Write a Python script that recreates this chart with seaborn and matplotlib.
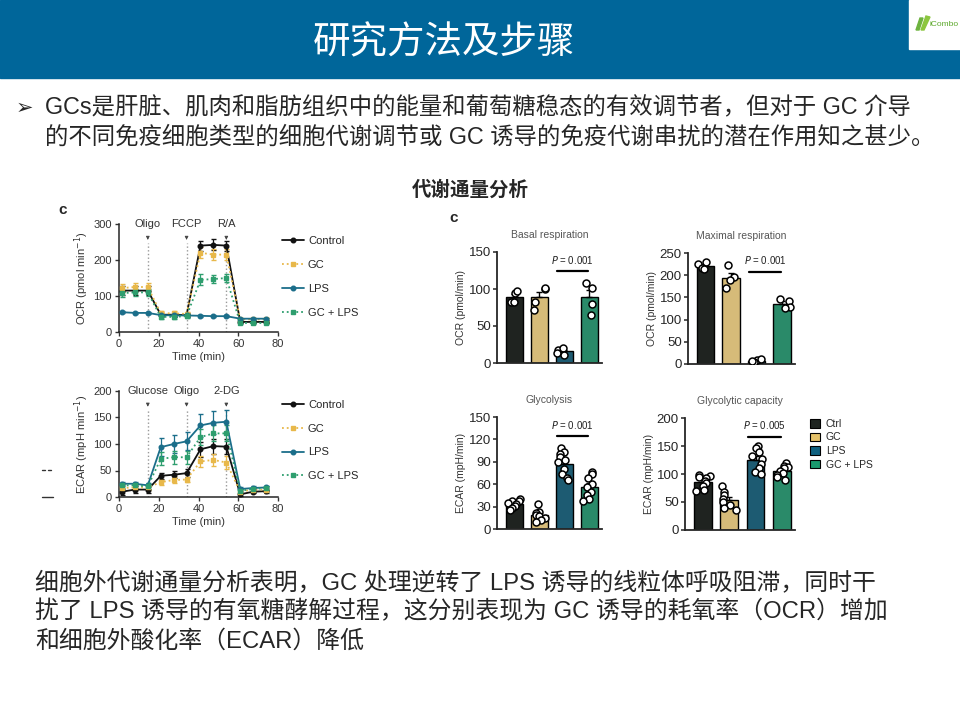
import numpy as np
import pandas as pd
import matplotlib
matplotlib.use("Agg")
import matplotlib.pyplot as plt
import seaborn as sns
from matplotlib.patches import Rectangle, Patch, Polygon
from matplotlib.lines import Line2D

# ---- data ----
times = [1.5, 8, 14.5, 21, 27.5, 34, 41, 47.5, 54, 61, 67.5, 74]
line_groups = ["Control", "GC", "LPS", "GC + LPS"]

ocr_control = [115, 115, 115, 48, 48, 47, 240, 242, 240, 28, 28, 28]
ocr_gc = [122, 125, 125, 52, 52, 50, 220, 215, 215, 35, 35, 35]
ocr_lps = [55, 53, 53, 47, 46, 46, 45, 44, 44, 37, 37, 37]
ocr_gclps = [108, 110, 110, 42, 42, 44, 145, 147, 150, 25, 25, 25]
ocr_control_err = [12, 12, 12, 5, 5, 5, 14, 15, 14, 4, 4, 4]
ocr_gc_err = [12, 12, 12, 5, 5, 5, 15, 15, 15, 4, 4, 4]
ocr_lps_err = [3, 3, 3, 3, 3, 3, 3, 3, 3, 3, 3, 3]
ocr_gclps_err = [10, 10, 10, 5, 5, 5, 15, 10, 10, 3, 3, 3]

ecar_control = [10, 14, 14, 40, 42, 45, 90, 96, 95, 5, 10, 11]
ecar_gc = [17, 18, 18, 28, 32, 33, 67, 70, 65, 10, 14, 14]
ecar_lps = [25, 25, 22, 94, 100, 105, 135, 140, 142, 15, 17, 18]
ecar_gclps = [22, 22, 20, 72, 75, 75, 113, 120, 120, 12, 15, 17]
ecar_control_err = [6, 6, 6, 6, 7, 7, 14, 14, 14, 3, 3, 3]
ecar_gc_err = [5, 5, 5, 5, 5, 5, 10, 12, 12, 3, 3, 3]
ecar_lps_err = [4, 4, 4, 17, 17, 17, 22, 22, 22, 4, 3, 3]
ecar_gclps_err = [5, 5, 5, 12, 12, 12, 15, 15, 15, 3, 3, 3]

ocr_events = ["Oligo", "FCCP", "R/A"]
ecar_events = ["Glucose", "Oligo", "2-DG"]
event_times = [14.5, 34, 54]

bar_groups = ["Ctrl", "GC", "LPS", "GC + LPS"]
basal = {"Ctrl": [95, 97, 82, 82], "GC": [100, 101, 72, 82],
         "LPS": [18, 20, 14, 11], "GC + LPS": [102, 108, 80, 65]}
maximal = {"Ctrl": [226, 229, 216, 214], "GC": [222, 195, 190, 172],
           "LPS": [9, 11, 5, 6], "GC + LPS": [147, 141, 129, 127]}
glycolysis = {"Ctrl": [40, 38, 37, 35, 33, 31, 28, 25],
              "GC": [33, 23, 21, 19, 17, 15, 12, 10],
              "LPS": [108, 103, 100, 97, 93, 90, 80, 73, 68, 65],
              "GC + LPS": [76, 73, 68, 60, 56, 50, 46, 40, 38]}
capacity = {"Ctrl": [99, 97, 95, 92, 88, 84, 78, 72, 70],
            "GC": [78, 67, 62, 56, 50, 45, 40, 36],
            "LPS": [150, 147, 140, 133, 126, 118, 110, 104, 100],
            "GC + LPS": [120, 115, 112, 110, 106, 102, 98, 94, 90]}

title = "研究方法及步骤"
bullet_lines = ["GCs是肝脏、肌肉和脂肪组织中的能量和葡萄糖稳态的有效调节者，但对于 GC 介导",
                "的不同免疫细胞类型的细胞代谢调节或 GC 诱导的免疫代谢串扰的潜在作用知之甚少。"]
body_lines = ["细胞外代谢通量分析表明，GC 处理逆转了 LPS 诱导的线粒体呼吸阻滞，同时干",
              "扰了 LPS 诱导的有氧糖酵解过程，这分别表现为 GC 诱导的耗氧率（OCR）增加",
              "和细胞外酸化率（ECAR）降低"]

line_colors = {"Control": "#111111", "GC": "#E8B84A", "LPS": "#1B6E8A", "GC + LPS": "#2E9E6E"}
line_styles = {"Control": "-", "GC": ":", "LPS": "-", "GC + LPS": ":"}
line_markers = {"Control": "o", "GC": "s", "LPS": "o", "GC + LPS": "s"}
bar_colors = {"Ctrl": "#1E2420", "GC": "#E5C26A", "LPS": "#0F6180", "GC + LPS": "#1A9A6E"}

sns.set_theme(style="ticks")
plt.rcParams['font.family'] = ['Liberation Sans', 'Noto Sans CJK SC', 'DejaVu Sans']
plt.rcParams['axes.linewidth'] = 1.1
np.random.seed(3)  # only for the dot jitter

W, H = 960, 720


def box(l, t, r, b):
    return [l / W, 1 - b / H, (r - l) / W, (b - t) / H]


fig = plt.figure(figsize=(9.6, 7.2), dpi=100)
fig.patch.set_facecolor("white")

# header bar + logo
fig.patches.append(Rectangle((0, 1 - 78 / H), 1, 78 / H, transform=fig.transFigure,
                             color="#00669A", zorder=0))
fig.patches.append(Rectangle((909 / W, 1 - 49 / H), 51 / W, 49 / H, transform=fig.transFigure,
                             color="white", zorder=1))
fig.patches.append(Polygon([(916 / W, 1 - 30 / H), (920 / W, 1 - 18 / H), (923 / W, 1 - 18 / H),
                            (919 / W, 1 - 30 / H)], transform=fig.transFigure, color="#6DB33F", zorder=2))
fig.patches.append(Polygon([(921 / W, 1 - 30 / H), (926 / W, 1 - 16 / H), (930 / W, 1 - 17 / H),
                            (924 / W, 1 - 30 / H)], transform=fig.transFigure, color="#8CC63F", zorder=2))
fig.text(944 / W, 1 - 24 / H, "iCombo", color="#5BA829", fontsize=6, ha="center", va="center")
fig.text(444 / W, 1 - 43 / H, title, color="white", fontsize=27, ha="center", va="center")

# bullet text
fig.text(16 / W, 1 - 108 / H, "➢", fontsize=15, va="center", family=["DejaVu Sans"])
for i, s in enumerate(bullet_lines):
    fig.text(45 / W, 1 - (108 + 29 * i) / H, s, fontsize=16.8, va="center")

fig.text(470 / W, 1 - 190 / H, "代谢通量分析", fontsize=14, fontweight="bold", ha="center", va="center")
fig.text(58 / W, 1 - 210 / H, "c", fontsize=11, fontweight="bold", va="center")
fig.text(449 / W, 1 - 218 / H, "c", fontsize=11, fontweight="bold", va="center")

# stray marks at left edge
fig.lines.append(Line2D([42 / W, 45 / W], [1 - 470 / H] * 2, transform=fig.transFigure, color="#333333", lw=1))
fig.lines.append(Line2D([48 / W, 51 / W], [1 - 470 / H] * 2, transform=fig.transFigure, color="#333333", lw=1))
fig.lines.append(Line2D([42 / W, 53 / W], [1 - 497 / H] * 2, transform=fig.transFigure, color="#333333", lw=1))

for i, s in enumerate(body_lines):
    fig.text(35 / W, 1 - (583 + 29 * i) / H, s, fontsize=17.2, va="center")


def draw_time(ax, series, errs, ylim, yticks, ylabel, events, arrow_top, arrow_tip, leg_y):
    for name in line_groups:
        ax.errorbar(times, series[name], yerr=errs[name], color=line_colors[name],
                    ls=line_styles[name], marker=line_markers[name], ms=3.3, lw=1.3,
                    elinewidth=0.9, capsize=1.8, zorder=3)
    for t, lab in zip(event_times, events):
        ax.plot([t, t], [0, arrow_tip], color="#999999", ls=":", lw=1, zorder=1)
        ax.annotate("", xy=(t, arrow_tip), xytext=(t, arrow_top),
                    arrowprops=dict(arrowstyle="-|>", color="#444444", lw=0.6,
                                    mutation_scale=5))
        ax.text(t, ylim[1], lab, ha="center", va="center", fontsize=8, color="#333333")
    ax.set_xlim(0, 80)
    ax.set_ylim(*ylim)
    ax.set_xticks([0, 20, 40, 60, 80])
    ax.set_yticks(yticks)
    ax.tick_params(labelsize=8, length=3, width=1, colors="#333333", pad=2)
    ax.set_xlabel("Time (min)", fontsize=8, color="#333333", labelpad=2)
    ax.set_ylabel(ylabel, fontsize=8, color="#333333", labelpad=2)
    sns.despine(ax=ax)
    handles = [Line2D([], [], color=line_colors[n], ls=line_styles[n], marker=line_markers[n],
                      ms=3.3, lw=1.3) for n in line_groups]
    ax.legend(handles, line_groups, loc="upper left", bbox_to_anchor=(1.0, leg_y),
              frameon=False, fontsize=8, labelspacing=1.25, handlelength=1.9,
              handletextpad=0.4, borderaxespad=0)


ax1 = fig.add_axes(box(119, 224, 278, 332))
draw_time(ax1,
          {"Control": ocr_control, "GC": ocr_gc, "LPS": ocr_lps, "GC + LPS": ocr_gclps},
          {"Control": ocr_control_err, "GC": ocr_gc_err, "LPS": ocr_lps_err, "GC + LPS": ocr_gclps_err},
          (0, 300), [0, 100, 200, 300], "OCR (pmol min$^{-1}$)", ocr_events, 272, 248, 0.93)

ax2 = fig.add_axes(box(119, 391, 278, 497))
draw_time(ax2,
          {"Control": ecar_control, "GC": ecar_gc, "LPS": ecar_lps, "GC + LPS": ecar_gclps},
          {"Control": ecar_control_err, "GC": ecar_gc_err, "LPS": ecar_lps_err, "GC + LPS": ecar_gclps_err},
          (0, 200), [0, 50, 100, 150, 200], "ECAR (mpH min$^{-1}$)", ecar_events, 182, 165, 0.96)


def draw_bars(ax, values, ylim, yticks, ylabel, panel_title, ptext, p_y):
    df = pd.DataFrame([(g, v) for g in bar_groups for v in values[g]], columns=["group", "value"])
    sns.barplot(data=df, x="group", y="value", hue="group", order=bar_groups, hue_order=bar_groups,
                palette=bar_colors, errorbar=None, width=0.68, edgecolor="black",
                linewidth=1, ax=ax, legend=False, zorder=2)
    stats = df.groupby("group")["value"].agg(["mean", "sem"]).reindex(bar_groups)
    ax.errorbar(range(len(bar_groups)), stats["mean"], yerr=[np.zeros(len(bar_groups)), stats["sem"]],
                fmt="none", ecolor="black", elinewidth=1, capsize=2.5, zorder=3)
    sns.stripplot(data=df, x="group", y="value", order=bar_groups, color="white", jitter=0.3,
                  edgecolor="black", linewidth=1.1, size=5.0, ax=ax, zorder=4)
    ax.plot([1.72, 2.95], [p_y, p_y], color="black", lw=1.6)
    ax.text(2.33, p_y + (ylim[1] - ylim[0]) * 0.05, r"$\it{P}$ = " + ptext, ha="center",
            va="bottom", fontsize=7, color="#222222")
    ax.set_xlim(-0.68, 3.5)
    ax.set_ylim(*ylim)
    ax.set_yticks(yticks)
    ax.set_xticks([])
    ax.set_xlabel("")
    ax.set_ylabel(ylabel, fontsize=7.5, color="#333333", labelpad=2)
    ax.set_title(panel_title, fontsize=7.5, color="#555555", pad=10)
    ax.tick_params(axis="y", labelsize=9.5, length=3, width=1.1, pad=1.5)
    for sp in ["left", "bottom"]:
        ax.spines[sp].set_linewidth(1.3)
    sns.despine(ax=ax)


ax3 = fig.add_axes(box(497, 252, 602, 363))
draw_bars(ax3, basal, (0, 150), [0, 50, 100, 150], "OCR (pmol/min)", "Basal respiration", "0.001", 124)
ax4 = fig.add_axes(box(688, 253, 795, 364))
draw_bars(ax4, maximal, (0, 250), [0, 50, 100, 150, 200, 250], "OCR (pmol/min)", "Maximal respiration",
          "0.001", 208)
ax5 = fig.add_axes(box(497, 417, 602, 529))
draw_bars(ax5, glycolysis, (0, 150), [0, 30, 60, 90, 120, 150], "ECAR (mpH/min)", "Glycolysis",
          "0.001", 124)
ax6 = fig.add_axes(box(685, 418, 795, 530))
draw_bars(ax6, capacity, (0, 200), [0, 50, 100, 150, 200], "ECAR (mpH/min)", "Glycolytic capacity",
          "0.005", 166)
patches = [Patch(facecolor=bar_colors[g], edgecolor="black", lw=0.8) for g in bar_groups]
ax6.legend(patches, bar_groups, loc="upper left", bbox_to_anchor=(1.1, 1.03), frameon=False,
           fontsize=7.5, handlelength=0.9, handleheight=0.9, labelspacing=0.35,
           handletextpad=0.6, borderaxespad=0)

fig.savefig("out.png", dpi=100)
